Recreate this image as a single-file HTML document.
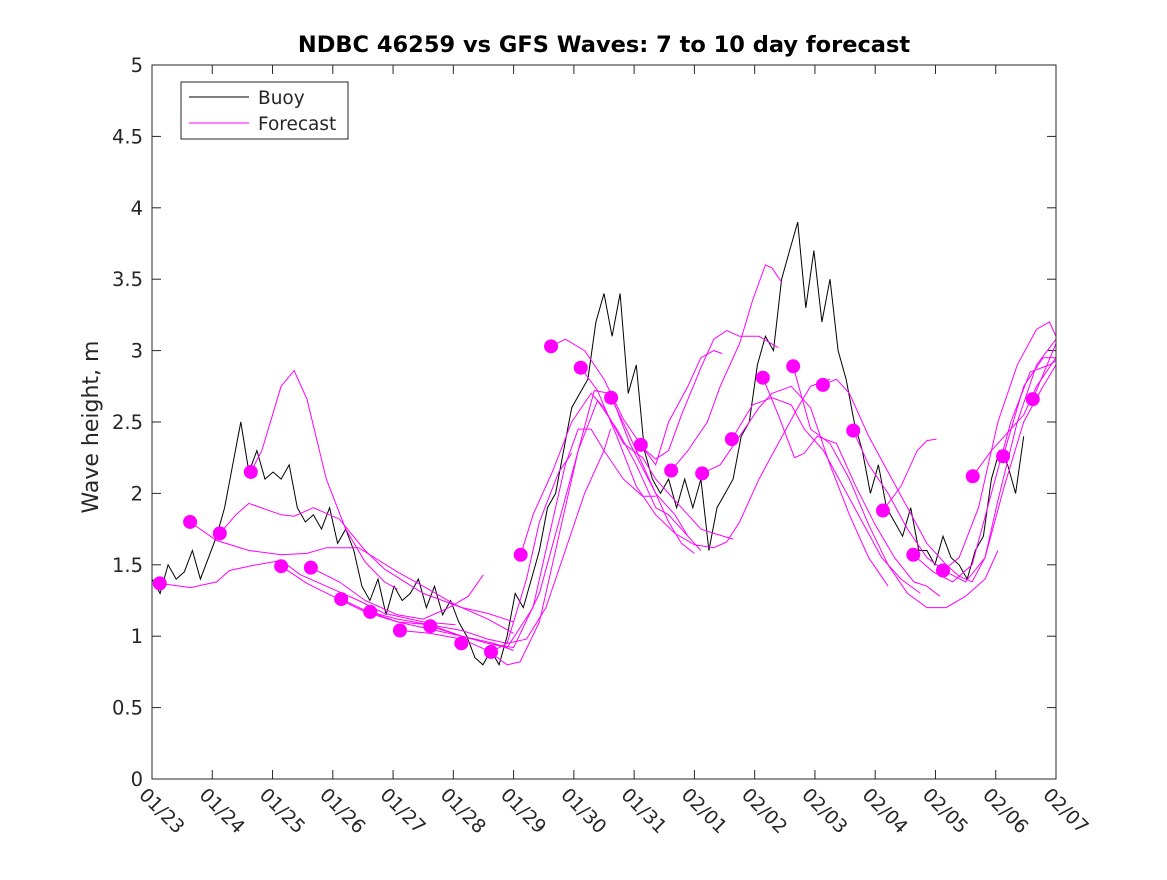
<!DOCTYPE html>
<html><head><meta charset="utf-8"><style>
body{margin:0;background:#fff}
svg{font-family:"DejaVu Sans","Liberation Sans",sans-serif}
</style></head><body>
<svg id="chart" width="1167" height="875" xmlns="http://www.w3.org/2000/svg">
<rect width="1167" height="875" fill="#fff"/>
<text x="604" y="52" text-anchor="middle" font-size="22.5" font-weight="bold">NDBC 46259 vs GFS Waves: 7 to 10 day forecast</text>
<text transform="translate(98,427) rotate(-90)" text-anchor="middle" font-size="22" fill="#262626">Wave height, m</text>
<g id="plot"></g>
<rect x="152" y="65" width="904" height="714" fill="none" stroke="#262626" stroke-width="1"/>
<g>
<rect x="181" y="82" width="167" height="57" fill="#fff" stroke="#262626"/>
<line x1="189" y1="97" x2="249" y2="97" stroke="#000"/>
<text x="258" y="104" font-size="18.5" fill="#262626">Buoy</text>
<line x1="189" y1="123" x2="249" y2="123" stroke="#f0f"/>
<text x="258" y="130" font-size="18.5" fill="#262626">Forecast</text>
</g>
</svg>
<script>
const xLabels=["01/23","01/24","01/25","01/26","01/27","01/28","01/29","01/30","01/31","02/01","02/02","02/03","02/04","02/05","02/06","02/07"];
const yTicks=[0,0.5,1,1.5,2,2.5,3,3.5,4,4.5,5];
const buoyValues=[
1.4,1.3,1.5,1.4,1.45,1.6,1.4,1.55,
1.7,1.9,2.2,2.5,2.15,2.3,2.1,2.15,
2.1,2.2,1.9,1.8,1.85,1.75,1.9,1.65,
1.75,1.6,1.35,1.25,1.4,1.15,1.35,1.25,
1.3,1.4,1.2,1.35,1.15,1.25,1.1,1.0,
0.85,0.8,0.9,0.8,1.0,1.3,1.2,1.4,
1.6,1.9,2.0,2.3,2.6,2.7,2.8,3.2,
3.4,3.1,3.4,2.7,2.9,2.3,2.1,2.0,
2.1,1.9,2.1,1.9,2.1,1.6,1.9,2.0,
2.1,2.4,2.5,2.9,3.1,3.0,3.5,3.7,
3.9,3.3,3.7,3.2,3.5,3.0,2.8,2.5,
2.3,2.0,2.2,1.9,1.8,1.7,1.9,1.6,
1.6,1.5,1.7,1.55,1.5,1.4,1.6,1.7,
2.1,2.3,2.2,2.0,2.4];
const buoyStepDays=0.125;
const dotDays=[0.12,0.59,1.05,1.53,2.0,2.46,2.93,3.38,3.84,4.31,4.79,5.25,5.71,6.18,6.64,7.11,7.57,8.04,8.52,8.98,9.46,9.93,10.39,10.86,11.32,11.79,12.25,12.71,13.18,13.64];
const dotValues=[1.37,1.80,1.72,2.15,1.49,1.48,1.26,1.17,1.04,1.07,0.95,0.89,1.57,3.03,2.88,2.67,2.34,2.16,2.14,2.38,2.81,2.89,2.76,2.44,1.88,1.57,1.46,2.12,2.26,2.66];
const forecasts=[
[[0.12,1.37],[0.6,1.34],[1.0,1.38],[1.2,1.46],[1.5,1.49],[2.0,1.53],[2.3,1.43],[2.7,1.35],[3.2,1.25],[3.6,1.16],[4.2,1.1],[4.7,1.08]],
[[0.59,1.80],[1.0,1.67],[1.5,1.6],[2.0,1.57],[2.4,1.58],[2.7,1.62],[3.2,1.62],[3.8,1.45],[4.2,1.35],[4.7,1.22],[5.2,1.12],[5.6,1.02]],
[[1.05,1.72],[1.3,1.85],[1.5,1.93],[2.0,1.85],[2.2,1.84],[2.5,1.90],[2.9,1.82],[3.3,1.6],[3.6,1.47],[4.2,1.3],[4.8,1.2],[5.2,1.16],[5.6,1.10]],
[[1.53,2.15],[1.7,2.3],[1.9,2.6],[2.0,2.75],[2.2,2.86],[2.4,2.66],[2.7,2.1],[3.0,1.75],[3.3,1.52],[3.6,1.38],[3.8,1.33]],
[[2.0,1.49],[2.4,1.37],[2.8,1.28],[3.3,1.17],[3.8,1.1],[4.3,1.08],[4.8,1.0],[5.3,0.95],[5.6,0.90]],
[[2.46,1.48],[2.9,1.38],[3.3,1.25],[3.8,1.15],[4.2,1.12],[4.6,1.2],[4.9,1.28],[5.13,1.43]],
[[2.93,1.26],[3.3,1.18],[3.8,1.12],[4.3,1.08],[4.8,1.04],[5.2,0.98],[5.5,0.95],[5.8,0.98],[6.1,1.2],[6.4,1.6],[6.7,2.0],[7.0,2.3],[7.1,2.45]],
[[3.38,1.17],[3.8,1.1],[4.3,1.05],[4.8,1.0],[5.2,0.95],[5.5,0.92],[5.9,1.2],[6.2,1.8],[6.4,2.2],[6.6,2.45],[6.8,2.45],[7.0,2.3],[7.3,2.1],[7.6,1.98],[7.8,1.98]],
[[3.84,1.04],[4.3,1.02],[4.8,0.98],[5.2,0.9],[5.5,0.8],[5.7,0.82],[6.0,1.1],[6.3,1.7],[6.6,2.3],[6.85,2.72],[7.1,2.7],[7.4,2.35],[7.8,2.0],[8.1,1.85],[8.3,1.7]],
[[4.31,1.07],[4.8,1.0],[5.2,0.95],[5.6,0.92],[6.0,1.3],[6.3,1.8],[6.6,2.3],[6.9,2.65],[7.2,2.45],[7.5,2.2],[7.8,1.9],[8.0,1.85],[8.3,1.7],[8.5,1.6]],
[[5.25,0.89],[5.5,0.95],[5.8,1.4],[6.0,1.8],[6.3,2.15],[6.5,2.28]],
[[5.71,1.57],[5.9,1.85],[6.2,2.15],[6.5,2.5],[6.8,2.7],[7.0,2.6],[7.3,2.35],[7.6,2.25],[7.8,2.1],[8.2,1.9],[8.5,1.75],[8.7,1.72],[9.0,1.68]],
[[6.18,3.03],[6.4,3.08],[6.7,3.0],[7.0,2.8],[7.3,2.52],[7.6,2.32],[7.8,2.24],[8.0,2.3],[8.2,2.55],[8.5,2.88],[8.7,3.08],[8.9,3.14],[9.1,3.1],[9.4,3.1],[9.7,3.02]],
[[6.64,2.88],[6.9,2.72],[7.2,2.4],[7.5,2.05],[7.8,1.85],[8.1,1.72],[8.4,1.64],[8.7,1.62],[8.9,1.66],[9.1,1.8],[9.4,2.1],[9.7,2.35],[10.0,2.6],[10.2,2.75],[10.5,2.8]],
[[7.11,2.67],[7.4,2.4],[7.7,2.1],[8.0,1.8],[8.2,1.65],[8.4,1.58]],
[[7.57,2.34],[7.8,2.2],[8.0,2.5],[8.3,2.75],[8.5,2.95],[8.7,3.0],[8.83,2.98]],
[[8.04,2.16],[8.3,2.3],[8.6,2.5],[8.8,2.75],[9.1,3.05],[9.3,3.35],[9.5,3.6],[9.6,3.58],[9.75,3.48]],
[[8.52,2.14],[8.8,2.2],[9.1,2.4],[9.4,2.6],[9.6,2.7],[9.9,2.75],[10.2,2.6],[10.5,2.2],[10.8,1.85],[11.1,1.55],[11.4,1.35]],
[[8.98,2.38],[9.3,2.62],[9.6,2.67],[9.9,2.62],[10.1,2.45],[10.4,2.3],[10.7,2.05],[11.0,1.8],[11.3,1.55],[11.6,1.4],[11.9,1.3]],
[[9.46,2.81],[9.7,2.55],[9.95,2.25],[10.1,2.28],[10.3,2.4],[10.6,2.35],[10.9,2.05],[11.2,1.78],[11.5,1.55],[11.8,1.38],[12.0,1.35],[12.2,1.28]],
[[9.93,2.89],[10.2,2.45],[10.5,2.35],[10.8,2.1],[11.1,1.78],[11.4,1.5],[11.7,1.3],[12.0,1.2],[12.3,1.2],[12.6,1.28],[12.9,1.4],[13.1,1.6]],
[[10.39,2.76],[10.6,2.8],[10.8,2.7],[11.1,2.4],[11.4,2.15],[11.7,1.9],[12.0,1.65],[12.3,1.5],[12.5,1.42],[12.7,1.38],[12.9,1.55],[13.2,2.05],[13.5,2.5],[13.8,2.75],[14.0,2.9]],
[[10.86,2.44],[11.1,2.2],[11.4,2.0],[11.7,1.75],[12.0,1.55],[12.3,1.45],[12.6,1.38],[12.9,1.55],[13.1,1.95],[13.4,2.5],[13.7,2.9],[14.0,3.08]],
[[11.32,1.88],[11.6,2.05],[11.85,2.3],[12.0,2.37],[12.15,2.38]],
[[11.79,1.57],[12.1,1.45],[12.4,1.38],[12.7,1.5],[13.0,2.0],[13.3,2.5],[13.6,2.85],[13.9,2.9],[14.0,2.93]],
[[12.25,1.46],[12.5,1.55],[12.8,1.9],[13.1,2.5],[13.4,2.9],[13.7,3.15],[13.9,3.2],[14.0,3.1]],
[[12.71,2.12],[13.0,2.3],[13.3,2.45],[13.5,2.55],[13.7,2.75],[14.0,2.95]],
[[13.18,2.26],[13.5,2.75],[13.8,2.95],[14.0,2.95]],
[[13.64,2.66],[14.0,3.05]]
];
// data above recorded on a 14-unit axis spanning the full 15-day range
const DATA_SPAN=14;
const X0=152,X1=1056,Y0=779,Y1=65,DAYS=15,YMAX=5;
function xs(d){return X0+(X1-X0)*d/DAYS;}
function xd(u){return X0+(X1-X0)*u/DATA_SPAN;}
function ys(v){return Y0-(Y0-Y1)*v/YMAX;}
const NS="http://www.w3.org/2000/svg";
const g=document.getElementById('plot');
function mk(t,a){const e=document.createElementNS(NS,t);for(const k in a)e.setAttribute(k,a[k]);g.appendChild(e);return e;}
yTicks.forEach(v=>{
 const y=ys(v);
 const t=mk('line',{x1:X0,y1:y,x2:X0+9,y2:y,stroke:'#262626'});
 
 
 const t2=mk('line',{x1:X1-9,y1:y,x2:X1,y2:y,stroke:'#262626'});
 
 
 const l=mk('text',{x:X0-9,y:y+7,'text-anchor':'end','font-size':'19.5',fill:'#262626'});
 l.textContent=String(v);
 
 
});
xLabels.forEach((s,i)=>{
 const x=xs(i);
 const t=mk('line',{x1:x,y1:Y0,x2:x,y2:Y0-9,stroke:'#262626'});
 
 
 const t2=mk('line',{x1:x,y1:Y1,x2:x,y2:Y1+9,stroke:'#262626'});
 
 
 const l=mk('text',{transform:`translate(${x-14},${Y0+17}) rotate(45)`,'font-size':'19',fill:'#262626'});
 l.textContent=s;
 
 
});
const bp=buoyValues.map((v,i)=>xd(i*buoyStepDays).toFixed(1)+','+ys(v).toFixed(1)).join(' ');
const bl=mk('polyline',{points:bp,fill:'none',stroke:'#000','stroke-width':'1'});


forecasts.forEach(f=>{
 const p=f.map(q=>xd(q[0]).toFixed(1)+','+ys(q[1]).toFixed(1)).join(' ');
 const e=mk('polyline',{points:p,fill:'none',stroke:'#f0f','stroke-width':'1'});
 
 
});
dotDays.forEach((d,i)=>{
 const c=mk('circle',{cx:xd(d),cy:ys(dotValues[i]),r:7,fill:'#f0f'});
 
 
});
</script>
</body></html>
